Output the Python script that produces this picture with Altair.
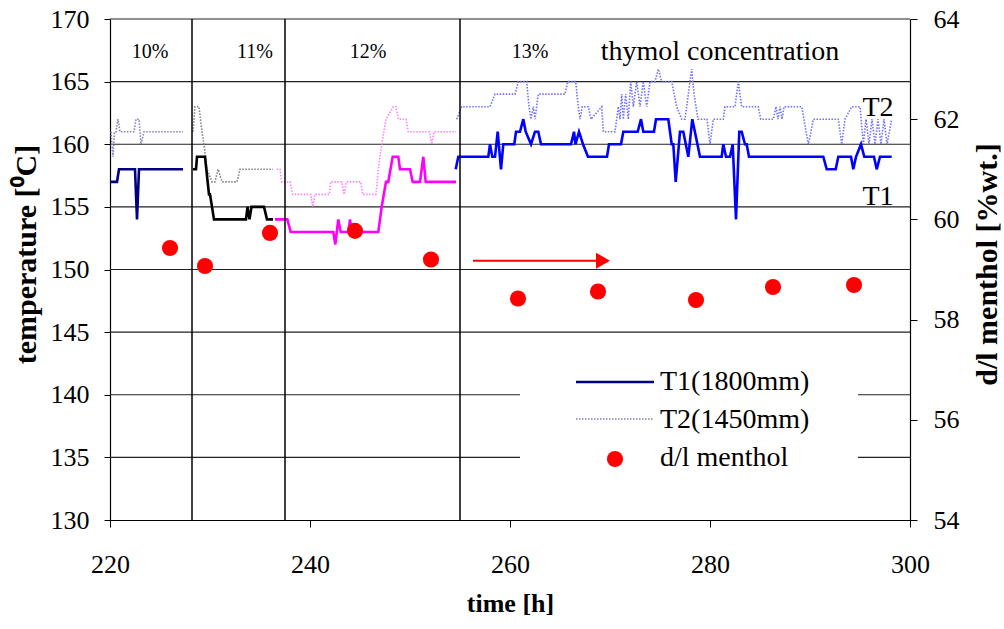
import altair as alt
import pandas as pd

FONT = "Liberation Serif"

# ---- T1 (1800 mm) by thymol-concentration period ----
t1_10_h = [220.0, 220.7, 220.9, 222.5, 222.7, 222.9, 227.3]
t1_10_T = [157, 157, 158, 158, 154, 158, 158]

t1_11_h = [228.3, 228.6, 228.7, 229.5, 229.9, 230.0, 230.4, 233.6, 233.75, 233.95, 234.15, 235.4, 235.7, 236.3]
t1_11_T = [158, 158, 159, 159, 156, 156, 154, 154, 155, 154, 155, 155, 154, 154]

t1_12_h = [236.5, 237.73, 238.07, 242.33, 242.53, 242.83, 243.07, 243.83, 244.0, 244.17, 246.83, 247.17,
           247.6, 247.83, 248.27, 248.83, 249.0, 250.0, 250.27, 251.0, 251.33, 251.57, 254.6]
t1_12_T = [154, 154, 153, 153, 152, 154, 153, 153, 154, 153, 153, 155,
           157, 157, 159, 159, 158, 158, 157, 157, 159, 157, 157]

t1_13_h = [254.57, 254.83, 257.83, 258.0, 258.23, 258.5, 258.77, 259.1, 259.33, 260.43, 260.6, 261.0,
           261.33, 261.57, 262.1, 262.5, 262.83, 263.1, 266.1, 266.4, 266.55, 266.9, 267.3, 267.8,
           269.7, 269.9, 271.1, 271.33, 272.77, 273.1, 273.33, 274.4, 274.6, 275.83, 276.17, 276.33,
           276.57, 277.0, 277.33, 277.83, 278.23, 279.0, 281.17, 281.33, 281.6, 282.0, 282.27, 282.6,
           282.93, 283.17, 283.5, 283.67, 283.9, 291.33, 291.67, 292.57, 292.83, 294.1, 294.33, 294.6,
           295.1, 295.43, 296.4, 296.67, 297.0, 298.17]
t1_13_T = [158, 159, 159, 160, 159, 159, 161, 158, 160, 160, 161, 161,
           162, 161, 160, 161, 161, 160, 160, 161, 160, 161, 160, 159,
           159, 160, 160, 161, 161, 162, 161, 161, 162, 162, 160, 160,
           157, 161, 161, 159, 162, 159, 159, 160, 159, 159, 160, 154,
           161, 161, 160, 160, 159, 159, 158, 158, 159, 159, 158, 159,
           160, 159, 159, 158, 159, 159]

# ---- T2 (1450 mm) ----
t2_10_h = [220.1, 220.3, 220.45, 220.6, 220.8, 221.0, 222.4, 222.6, 222.9, 223.1, 223.4, 227.3]
t2_10_T = [161, 159, 161, 161, 162, 161, 161, 162, 162, 160, 161, 161]

t2_11_h = [228.3, 228.5, 228.9, 229.2, 229.4, 229.7, 230.2, 230.5, 230.8, 231.2, 232.7, 233.0, 236.3]
t2_11_T = [161, 163, 163, 161, 160, 158, 157, 157, 158, 157, 157, 158, 158]

t2_12_h = [236.67, 237.0, 237.17, 238.0, 238.27, 240.07, 240.27, 240.5, 241.93, 242.07, 243.17, 243.4,
           243.67, 245.07, 245.27, 246.6, 246.83, 247.17, 247.6, 248.33, 248.6, 248.83, 249.6, 249.83,
           251.93, 252.17, 252.4, 254.6]
t2_12_T = [158, 158, 157, 157, 156, 156, 155, 156, 156, 157, 157, 156,
           157, 157, 156, 156, 158, 160, 162, 163, 163, 162, 162, 161,
           161, 160, 161, 161]

t2_13_h = [254.67, 255.17, 258.0, 258.5, 260.5, 260.83, 261.67, 261.9, 262.1, 262.33, 262.5, 262.83,
           265.5, 265.77, 266.57, 266.83, 267.0, 267.23, 267.83, 268.1, 269.17, 269.33, 270.5, 270.83,
           271.0, 271.17, 271.33, 271.57, 271.83, 272.07, 272.33, 272.67, 273.0, 273.33, 273.67, 274.0,
           274.5, 274.83, 275.17, 276.17, 276.67, 277.17, 277.5, 278.0, 278.17, 278.4, 278.8, 279.7,
           280.0, 280.33, 281.33, 281.5, 282.5, 282.83, 283.17, 284.83, 285.07, 286.33, 286.6, 286.8,
           287.0, 287.2, 287.4, 289.17, 289.83, 290.1, 290.33, 292.83, 293.17, 293.5, 294.17, 295.0,
           295.33, 295.6, 295.9, 296.2, 296.5, 296.8, 297.1, 297.4, 297.7, 298.17]
t2_13_T = [162, 163, 163, 164, 164, 165, 165, 163, 162, 163, 162, 164,
           164, 165, 165, 163, 162, 163, 163, 162, 163, 161, 161, 163,
           162, 164, 162, 164, 162, 165, 163, 165, 163, 165, 163, 165,
           165, 166, 165, 165, 163, 162, 162, 165, 166, 164, 162, 162,
           160, 162, 162, 163, 163, 165, 163, 163, 162, 162, 163, 162,
           163, 162, 163, 163, 160, 161, 162, 162, 160, 162, 163, 163,
           160, 162, 160, 162, 160, 162, 160, 162, 160, 162]

# ---- d/l menthol (right axis) ----
menthol_h = [226.0, 229.5, 236.0, 244.5, 252.1, 260.8, 268.8, 278.6, 286.3, 294.4]
menthol_v = [59.43, 59.07, 59.73, 59.77, 59.2, 58.42, 58.56, 58.39, 58.65, 58.69]

# ---- axes ticks ----
x_ticks = [220, 240, 260, 280, 300]
y_ticks = [130, 135, 140, 145, 150, 155, 160, 165, 170]
y2_ticks = [54, 56, 58, 60, 62, 64]

# ---- period boundaries and labels ----
bound_h = [228.2, 237.5, 255.0]
pct_text = ["10%", "11%", "12%", "13%"]
pct_h = [224.0, 234.5, 245.8, 262.0]
pct_T = [167.4, 167.4, 167.4, 167.4]

note_text = ["thymol concentration", "T2", "T1"]
note_h = [281.0, 296.8, 296.8]
note_T = [167.4, 162.9, 155.8]

arrow_h = [256.3, 269.3]
arrow_T = [150.7, 150.7]

seg_names = ["T1_10", "T1_11", "T1_12", "T1_13", "T2_10", "T2_11", "T2_12", "T2_13"]
seg_colors = ["#000080", "#000000", "#ff00ff", "#0000ff", "#8080c0", "#808080", "#ff80ff", "#7070ff"]

rows = []
for name, hs, ts in [("T1_10", t1_10_h, t1_10_T), ("T1_11", t1_11_h, t1_11_T),
                     ("T1_12", t1_12_h, t1_12_T), ("T1_13", t1_13_h, t1_13_T),
                     ("T2_10", t2_10_h, t2_10_T), ("T2_11", t2_11_h, t2_11_T),
                     ("T2_12", t2_12_h, t2_12_T), ("T2_13", t2_13_h, t2_13_T)]:
    for h, t in zip(hs, ts):
        rows.append({"seg": name, "h": h, "T": t, "series": name[:2]})
lines_df = pd.DataFrame(rows)

axis_style = dict(labelFont=FONT, titleFont=FONT, labelFontSize=26,
                  titleFontWeight="bold", labelColor="black", titleColor="black",
                  domainColor="black", tickColor="black", domainWidth=1.2, grid=False,
                  labelFlush=False)

xscale = alt.Scale(domain=[220, 300], nice=False, zero=False)
xaxis = alt.Axis(values=x_ticks, title="time [h]", tickSize=7, labelPadding=24,
                 titlePadding=13, titleFontSize=26, **axis_style)
X = alt.X("h:Q", scale=xscale, axis=xaxis)
yscale = alt.Scale(domain=[130, 170], nice=False, zero=False)
yaxis = alt.Axis(values=y_ticks, title="temperature [⁰C]", tickSize=6, labelPadding=15,
                 titleFontSize=30, titleAngle=270, titleX=-84, titleY=235,
                 titleAlign="center", titleBaseline="middle", **axis_style)
Y = alt.Y("T:Q", scale=yscale, axis=yaxis)
color = alt.Color("seg:N", scale=alt.Scale(domain=seg_names, range=seg_colors), legend=None)

grid = alt.Chart(pd.DataFrame({"T": y_ticks[1:]})).mark_rule(color="#222222", strokeWidth=1.2).encode(y=Y)

t2_layer = alt.Chart(lines_df).transform_filter(alt.datum.series == "T2").mark_line(
    strokeWidth=1.6, strokeDash=[1.5, 1.5]).encode(
    x=X, y=Y, color=color, detail="seg:N", order="h:Q")
t1_layer = alt.Chart(lines_df).transform_filter(alt.datum.series == "T1").mark_line(
    strokeWidth=2.6).encode(x=X, y=Y, color=color, detail="seg:N", order="h:Q")

bounds = alt.Chart(pd.DataFrame({"h": bound_h})).mark_rule(color="black", strokeWidth=1.5).encode(x=X)

pct = alt.Chart(pd.DataFrame({"h": pct_h, "T": pct_T, "t": pct_text})).mark_text(
    font=FONT, fontSize=20, color="black").encode(x=X, y=Y, text="t:N")
notes = alt.Chart(pd.DataFrame({"h": note_h, "T": note_T, "t": note_text})).mark_text(
    font=FONT, fontSize=28, color="black").encode(x=X, y=Y, text="t:N")

arrow_line = alt.Chart(pd.DataFrame({"h": arrow_h, "T": arrow_T})).mark_line(
    color="#ff0000", strokeWidth=2).encode(x=X, y=Y)
arrow_head = alt.Chart(pd.DataFrame({"h": [arrow_h[1]], "T": [arrow_T[1]]})).mark_point(
    shape="triangle-right", filled=True, color="#ff0000", size=260, opacity=1).encode(x=X, y=Y)

one = pd.DataFrame({"a": [0]})
leg_box = alt.Chart(one).mark_rect(fill="white").encode(
    x=alt.value(520 - 110), x2=alt.value(858 - 110), y=alt.value(352 - 19), y2=alt.value(484 - 19))
leg_t1 = alt.Chart(one).mark_rule(color="#000080", strokeWidth=2.6).encode(
    x=alt.value(576 - 110), x2=alt.value(654 - 110), y=alt.value(382 - 19))
leg_t2 = alt.Chart(one).mark_rule(color="#8080c0", strokeWidth=1.6, strokeDash=[1.5, 1.5]).encode(
    x=alt.value(576 - 110), x2=alt.value(654 - 110), y=alt.value(419 - 19))
leg_dot = alt.Chart(one).mark_point(filled=True, color="#ff0000", size=260, opacity=1).encode(
    x=alt.value(615 - 110), y=alt.value(459 - 19))
leg_labels = ["T1(1800mm)", "T2(1450mm)", "d/l menthol"]
leg_txt = [alt.Chart(one).mark_text(font=FONT, fontSize=28, align="left", baseline="middle",
                                    color="black").encode(
    x=alt.value(660 - 110), y=alt.value(yy - 19), text=alt.value(lab))
    for lab, yy in zip(leg_labels, [382, 420, 458])]

left_group = alt.layer(grid, t2_layer, t1_layer, bounds, pct, notes, arrow_line, arrow_head,
                       leg_box, leg_t1, leg_t2, leg_dot, *leg_txt)

dots = alt.Chart(pd.DataFrame({"h": menthol_h, "v": menthol_v})).mark_point(
    filled=True, color="#ff0000", size=260, opacity=1).encode(
    x=X,
    y=alt.Y("v:Q", scale=alt.Scale(domain=[54, 64], nice=False, zero=False),
            axis=alt.Axis(orient="right", values=y2_ticks, title="d/l menthol [%wt.]",
                          titleFontSize=30, titleAngle=270, titleX=77, titleY=245,
                          titleAlign="center", titleBaseline="middle", tickSize=7,
                          labelPadding=16, **axis_style)))

chart = alt.layer(left_group, dots).resolve_scale(y="independent").properties(
    width=800, height=501,
    background="white",
    autosize=alt.AutoSizeParams(type="none"),
    padding={"left": 110, "top": 19, "right": 94, "bottom": 109},
).configure_view(stroke=None)

chart.save("out.html", embed_options={"renderer": "svg", "actions": False})
